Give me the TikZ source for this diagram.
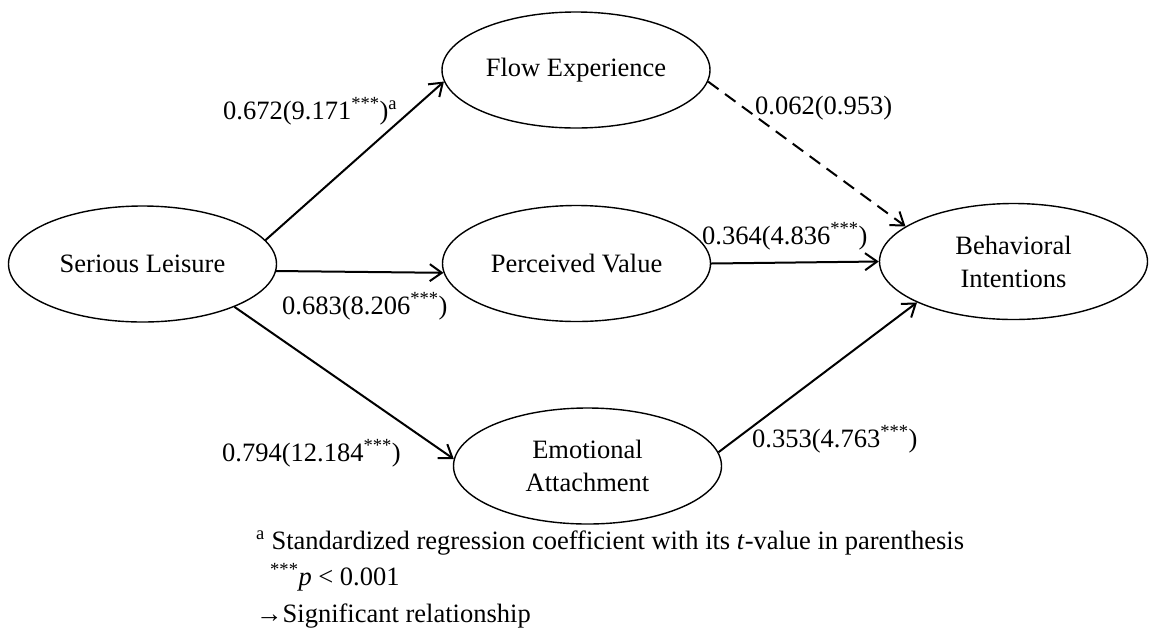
\documentclass[tikz,border=0pt]{standalone}
\usepackage{fontspec}
\setmainfont{Liberation Serif}
\usepackage{tikz}
\usetikzlibrary{shapes.geometric,arrows.meta}

\tikzset{
	construct/.style={draw,ellipse,line width=1.4pt,minimum width=268pt,minimum height=116pt,inner sep=0pt,align=center},
	sigarrow/.style={->,line width=2pt},
	nsarrow/.style={->,line width=2pt,dash pattern=on 13pt off 8pt},
	coef/.style={inner sep=0pt,anchor=base west}
}

\begin{document}
\begin{tikzpicture}[x=1pt,y=-1pt,>={Straight Barb[length=12pt,width=17pt]},font=\fontsize{26.5}{33}\selectfont]
		\useasboundingbox (0,0) rectangle (1151,633);

		\node[construct] (SL) at (142.5,264) {Serious Leisure};
		\node[construct] (FE) at (576,70) {Flow Experience};
		\node[construct] (PV) at (576.5,263.5) {Perceived Value};
		\node[construct] (EA) at (587.5,466) {Emotional\\Attachment};
		\node[construct] (BI) at (1013.5,261.5) {Behavioral\\Intentions};

		\draw[sigarrow] (SL.11) -- (FE.185.5);
		\draw[sigarrow] (SL.-3.8) -- (PV.184);
		\draw[sigarrow] (SL.-25.4) -- (EA.177.5);
		\draw[nsarrow] (FE.-5.5) -- (BI.162.2);
		\draw[sigarrow] (PV.0) -- (BI.180);
		\draw[sigarrow] (EA.6.5) -- (BI.203.2);

		\node[coef] (c1) at (223,119) {0.672(9.171\textsuperscript{***})\textsuperscript{a}};
		\node[coef] (c2) at (282,314) {0.683(8.206\textsuperscript{***})};
		\node[coef] (c3) at (222,461) {0.794(12.184\textsuperscript{***})};
		\node[coef] (c4) at (755,114) {0.062(0.953)};
		\node[coef] (c5) at (702,244) {0.364(4.836\textsuperscript{***})};
		\node[coef] (c6) at (752,447) {0.353(4.763\textsuperscript{***})};

		\node[coef] (n1) at (256,549) {\textsuperscript{a} Standardized regression coefficient with its \textit{t}-value in parenthesis};
		\node[coef] (n2) at (270,585) {\textsuperscript{***}\textit{p} < 0.001};
		\node[coef] (n3) at (256,622) {→Significant relationship};
	\end{tikzpicture}
\end{document}
